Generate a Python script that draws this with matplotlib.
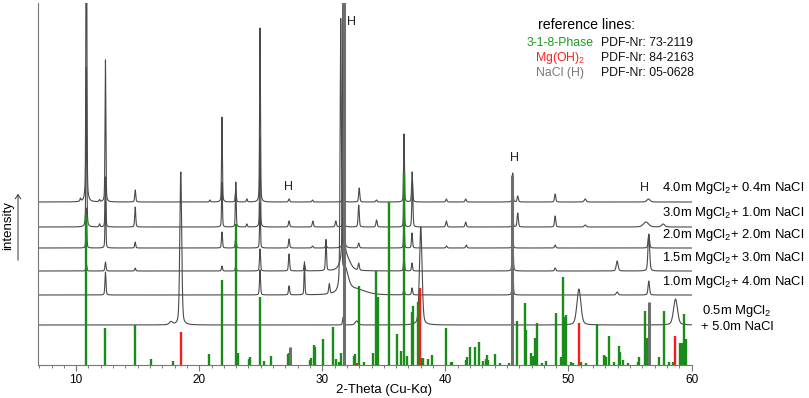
import numpy as np
import matplotlib
matplotlib.use("Agg")
import matplotlib.pyplot as plt
from matplotlib.ticker import MultipleLocator

plt.rcParams['font.family'] = ['Liberation Sans', 'DejaVu Sans']
plt.rcParams['mathtext.fontset'] = 'custom'
plt.rcParams['mathtext.rm'] = 'Liberation Sans'
plt.rcParams['mathtext.it'] = 'Liberation Sans:italic'
plt.rcParams['mathtext.bf'] = 'Liberation Sans:bold'

# ---------------- data ----------------
sample_labels = ["4.0m MgCl$_2$+ 0.4m NaCl", "3.0m MgCl$_2$+ 1.0m NaCl",
                 "2.0m MgCl$_2$+ 2.0m NaCl", "1.5m MgCl$_2$+ 3.0m NaCl",
                 "1.0m MgCl$_2$+ 4.0m NaCl", "0.5m MgCl$_2$\n+ 5.0m NaCl"]
trace_offsets = [163, 138, 117, 94, 70, 40]

# 4.0m MgCl2 + 0.4m NaCl
pos_40 = [10.35, 10.83, 11.9, 12.38, 14.8, 20.87, 21.85, 22.97, 23.87, 24.94, 27.3, 29.2,
          31.72, 33.0, 34.4, 36.64, 37.3, 40.08, 41.65, 45.47, 45.88, 48.92, 51.36, 56.5]
hgt_40 = [3, 420, 2, 142, 12, 2, 85, 12, 3, 174, 3, 2,
          40, 14, 2, 68, 30, 3, 3, 29, 6, 8, 3, 3]
fwhm_40 = [0.1, 0.08, 0.1, 0.08, 0.1, 0.1, 0.08, 0.1, 0.1, 0.08, 0.12, 0.12,
           0.08, 0.11, 0.12, 0.08, 0.1, 0.12, 0.12, 0.08, 0.12, 0.12, 0.18, 0.3]

# 3.0m MgCl2 + 1.0m NaCl
pos_30 = [10.83, 11.9, 12.38, 14.8, 21.85, 22.97, 23.87, 24.94, 27.3, 29.23, 31.1, 31.75,
          32.96, 34.41, 36.64, 37.32, 40.08, 41.65, 45.47, 45.88, 48.92, 51.36, 56.3, 57.7]
hgt_30 = [160, 3, 50, 20, 45, 45, 3, 90, 6, 6, 6, 60,
          22, 7, 45, 45, 6, 5, 20, 14, 11, 2, 5, 3]
fwhm_30 = [0.08, 0.1, 0.08, 0.1, 0.08, 0.08, 0.1, 0.08, 0.12, 0.12, 0.12, 0.08,
           0.11, 0.12, 0.08, 0.1, 0.12, 0.12, 0.08, 0.12, 0.12, 0.18, 0.5, 0.3]

# 2.0m MgCl2 + 2.0m NaCl
pos_20 = [10.83, 12.38, 14.8, 21.85, 22.97, 24.94, 27.3, 29.2, 30.3, 31.75, 32.96,
          36.64, 37.29, 40.1, 41.7, 45.47, 48.92, 56.53]
hgt_20 = [40, 55, 6, 16, 11, 45, 9, 2, 3, 150, 5,
          30, 15, 2, 3, 20, 3, 13]
fwhm_20 = [0.08, 0.08, 0.1, 0.1, 0.1, 0.08, 0.11, 0.12, 0.12, 0.08, 0.12,
           0.08, 0.1, 0.12, 0.12, 0.08, 0.12, 0.13]

# 1.5m MgCl2 + 3.0m NaCl
pos_15 = [10.83, 12.38, 14.8, 21.85, 22.97, 24.94, 27.3, 28.55, 30.3, 31.7, 31.9,
          32.96, 36.64, 37.29, 45.47, 48.92, 53.96, 56.53]
hgt_15 = [7, 9, 3, 5, 5, 22, 17, 7, 31, 400, 14,
          7, 15, 8, 40, 3, 10, 37]
fwhm_15 = [0.1, 0.1, 0.1, 0.1, 0.1, 0.1, 0.11, 0.1, 0.1, 0.1, 0.8,
           0.12, 0.1, 0.1, 0.1, 0.12, 0.18, 0.16]

# 1.0m MgCl2 + 4.0m NaCl
pos_10 = [12.38, 24.94, 27.3, 28.55, 30.57, 31.5, 31.85, 32.6, 36.64, 37.29, 45.47, 53.96, 56.53]
hgt_10 = [23, 25, 9, 33, 10, 265, 22, 6, 7, 7, 30, 3, 14]
fwhm_10 = [0.1, 0.1, 0.11, 0.08, 0.12, 0.12, 0.6, 2.0, 0.1, 0.1, 0.1, 0.18, 0.14]

# 0.5m MgCl2 + 5.0m NaCl
pos_05 = [17.7, 18.5, 31.7, 32.8, 38.0, 45.47, 50.85, 58.7]
hgt_05 = [3, 153, 8, 4, 98, 5, 36, 26]
fwhm_05 = [0.3, 0.18, 0.12, 0.3, 0.25, 0.1, 0.38, 0.38]

# reference lines (stick patterns)
green_pos = [10.81, 12.36, 14.8, 16.07, 17.91, 20.81, 21.87, 22.95, 23.14, 24.07, 24.12, 24.93,
             25.23, 25.85, 27.2, 27.28, 29.02, 29.1, 29.32, 29.38, 30.08, 30.87, 31.11, 31.35,
             31.52, 32.55, 32.68, 33.0, 33.41, 34.12, 34.39, 34.5, 35.43, 36.1, 36.37, 36.64,
             36.91, 37.26, 37.37, 37.78, 38.13, 38.2, 38.59, 38.94, 40.05, 40.49, 40.55, 41.65,
             41.76, 41.98, 42.38, 42.7, 43.09, 43.27, 43.35, 43.44, 44.01, 44.47, 45.15, 45.83,
             46.5, 46.59, 46.97, 47.1, 47.26, 47.45, 47.85, 48.18, 49.0, 49.43, 49.57, 49.7,
             49.83, 50.2, 50.4, 51.0, 51.4, 52.33, 52.87, 52.95, 53.05, 53.33, 53.69, 54.09,
             54.15, 54.45, 54.86, 55.67, 55.72, 56.26, 56.4, 57.37, 57.75, 58.2, 58.5, 59.05,
             59.24, 59.38, 59.57]
green_hgt = [150, 37, 40, 6, 4, 11, 85, 141, 12, 6, 8, 68,
             4, 9, 11, 12, 5, 7, 20, 18, 26, 38, 6, 3,
             12, 9, 11, 79, 3, 12, 94, 68, 163, 31, 14, 192,
             9, 53, 59, 63, 7, 7, 6, 10, 37, 3, 3, 5,
             8, 18, 18, 23, 4, 6, 10, 5, 11, 2, 2, 44,
             62, 35, 12, 9, 27, 42, 2, 4, 52, 8, 88, 48,
             50, 3, 2, 3, 2, 41, 10, 9, 8, 29, 3, 19,
             13, 5, 2, 3, 8, 54, 27, 8, 54, 3, 3, 22,
             22, 51, 26]
red_pos = [18.48, 32.8, 37.94, 50.84, 58.64]
red_hgt = [33, 2, 77, 42, 29]
gray_pos = [27.35, 31.73, 45.45, 56.53]
gray_hgt = [18, 420, 190, 63]

nacl_marks_x = [32.4, 27.25, 45.6, 56.2]
nacl_marks_y = [343, 178, 207, 177]

ref_names = ["3-1-8-Phase", "Mg(OH)$_2$", "NaCl (H)"]
ref_pdf = ["PDF-Nr: 73-2119", "PDF-Nr: 84-2163", "PDF-Nr: 05-0628"]
ref_colors = ["#1e9a1e", "#ff2020", "#777777"]

# ---------------- figure ----------------
W, H = 809, 398
fig = plt.figure(figsize=(W / 100, H / 100), dpi=100)


def fx(px):
    return px / W


def fy(py):
    return 1 - py / H


ax = fig.add_axes([fx(38), fy(365), fx(691.5) - fx(38), fy(3) - fy(365)])

two_theta = np.arange(6.9, 60.0001, 0.004)


def pattern(pos, hgt, fwhm):
    y = np.zeros_like(two_theta)
    for c, h, w in zip(pos, hgt, fwhm):
        d = (two_theta - c) / w
        y += h * (0.65 * np.exp(-4 * np.log(2) * d ** 2) + 0.35 / (1 + 4 * d ** 2))
    return y


traces = [(pos_40, hgt_40, fwhm_40), (pos_30, hgt_30, fwhm_30), (pos_20, hgt_20, fwhm_20),
          (pos_15, hgt_15, fwhm_15), (pos_10, hgt_10, fwhm_10), (pos_05, hgt_05, fwhm_05)]
for off, (p, h, w) in zip(trace_offsets, traces):
    ax.plot(two_theta, off + pattern(p, h, w), color='#4a4a4a', lw=0.8, zorder=2)

ax.vlines(green_pos, 0, green_hgt, color='#1a8c1a', lw=1.7, zorder=3)
ax.vlines(red_pos, 0, red_hgt, color='#ff1a1a', lw=1.7, zorder=3)
ax.vlines(gray_pos, 0, gray_hgt, color='#6e6e6e', lw=2.2, zorder=4)

for xh, yh in zip(nacl_marks_x, nacl_marks_y):
    ax.text(xh, yh, "H", ha='center', va='center', fontsize=9, color='#222222')

ax.set_xlim(6.9, 60)
ax.set_ylim(0, 362)
ax.set_yticks([])
for s in ['top', 'right']:
    ax.spines[s].set_visible(False)
for s in ['left', 'bottom']:
    ax.spines[s].set_color('#777777')
    ax.spines[s].set_linewidth(0.8)
ax.xaxis.set_major_locator(MultipleLocator(10))
ax.xaxis.set_minor_locator(MultipleLocator(1))
ax.tick_params(axis='x', which='major', length=4, width=0.8, color='#777777',
               labelsize=8.5, pad=2.5)
ax.tick_params(axis='x', which='minor', length=2.2, width=0.7, color='#777777')

fig.text(fx(384.5), fy(390), "2-Theta (Cu-K\u03b1)", ha='center', va='center', fontsize=9.5)
fig.text(fx(8), fy(226), "intensity", rotation=90, ha='center', va='center', fontsize=9.5)
fig.add_artist(matplotlib.patches.FancyArrowPatch(
    (fx(18), fy(263)), (fx(18), fy(191)), transform=fig.transFigure,
    arrowstyle='->,head_length=3,head_width=2', lw=0.7, color='#333333',
    mutation_scale=1))

# sample labels
label_y = [188, 213, 235, 258, 282, 318]
for i, (lab, py) in enumerate(zip(sample_labels, label_y)):
    if i < 5:
        fig.text(fx(662), fy(py), lab, ha='left', va='center', fontsize=9.4)
    else:
        fig.text(fx(737), fy(py), lab, ha='center', va='center', fontsize=9.4,
                 linespacing=1.2)

# reference legend
fig.text(fx(586.5), fy(25), "reference lines:", ha='center', va='center', fontsize=10.2)
for name, pdf, col, py in zip(ref_names, ref_pdf, ref_colors, [43, 58, 73]):
    fig.text(fx(560.5), fy(py), name, ha='center', va='center', fontsize=8.8, color=col)
    fig.text(fx(601), fy(py), pdf, ha='left', va='center', fontsize=8.8, color='#111111')

fig.savefig("out.png", dpi=100)
